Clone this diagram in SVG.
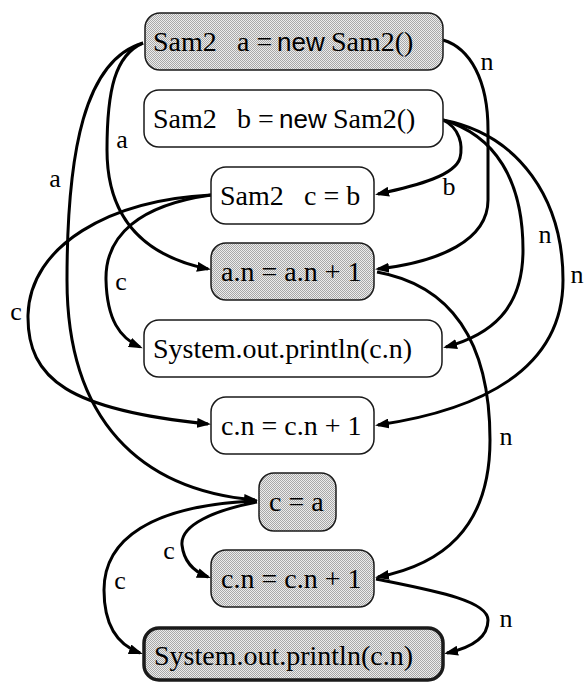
<svg xmlns="http://www.w3.org/2000/svg" width="584" height="682" viewBox="0 0 584 682">
<style>
.box{stroke:#1a1a1a;stroke-width:1.5;fill:#ffffff}
.sh{fill:url(#dots)}
.thick{stroke-width:3.5}
.e{fill:none;stroke:#000;stroke-width:3;marker-end:url(#ah)}
.t{font-family:'Liberation Serif','Times New Roman',serif;font-size:28px;fill:#000}
.s{font-family:'Liberation Sans',Arial,sans-serif;font-size:26px}
.l{font-family:'Liberation Serif','Times New Roman',serif;font-size:26px;fill:#000;text-anchor:middle}
</style>
<defs>
<pattern id="dots" width="2" height="2" patternUnits="userSpaceOnUse">
<rect width="2" height="2" fill="#ececec"/>
<rect width="1" height="1" fill="#a8a8a8"/>
<rect x="1" y="1" width="1" height="1" fill="#a8a8a8"/>
</pattern>
<marker id="ah" viewBox="0 0 14 10" refX="11" refY="5" markerWidth="14" markerHeight="10" markerUnits="userSpaceOnUse" orient="auto">
<path d="M0,0 L14,5 L0,10 z" fill="#000"/>
</marker>
</defs>
<g id="edges">
<path class="e" d="M143,43 C115,55 107,90 107,150 C107,215 140,255 208,269"/>
<path class="e" d="M143,43 C85,60 67,150 67,280 C67,420 140,490 255,500"/>
<path class="e" d="M443,40 C470,48 488,80 488,130 L488,200 C488,240 440,262 378,269"/>
<path class="e" d="M443,120 C460,128 463,145 460,158 C455,175 420,185 378,194"/>
<path class="e" d="M443,120 C495,135 523,180 523,250 C523,310 490,335 446,347"/>
<path class="e" d="M443,120 C520,135 563,200 563,280 C563,370 480,410 378,425"/>
<path class="e" d="M377,272 C450,285 490,340 490,440 C490,530 440,565 378,577"/>
<path class="e" d="M376,579 C430,590 488,600 488,620 C488,638 470,648 447,653"/>
<path class="e" d="M211,195 C140,205 105,235 106,280 C107,320 120,338 140,347"/>
<path class="e" d="M211,195 C110,200 30,245 28,315 C27,380 70,410 208,424"/>
<path class="e" d="M257,502 C215,510 180,525 182,545 C184,563 195,572 208,577"/>
<path class="e" d="M257,501 C150,505 104,540 104,590 C104,625 118,645 140,653"/>
<text class="l" x="122" y="148">a</text>
<text class="l" x="55" y="187">a</text>
<text class="l" x="487" y="70">n</text>
<text class="l" x="449" y="195">b</text>
<text class="l" x="545" y="243">n</text>
<text class="l" x="577" y="283">n</text>
<text class="l" x="506" y="445">n</text>
<text class="l" x="506" y="627">n</text>
<text class="l" x="121" y="290">c</text>
<text class="l" x="16" y="320">c</text>
<text class="l" x="169" y="559">c</text>
<text class="l" x="120" y="589">c</text>
</g>
<g id="n1">
<rect class="box sh" x="145" y="13" width="298" height="57" rx="15"/>
<text class="t" y="51"><tspan x="153">Sam2</tspan><tspan x="237">a =</tspan><tspan class="s" x="277">new</tspan><tspan x="331">Sam2()</tspan></text>
</g>
<g id="n2">
<rect class="box" x="144" y="90" width="299" height="57" rx="15"/>
<text class="t" y="128"><tspan x="153">Sam2</tspan><tspan x="237">b =</tspan><tspan class="s" x="279">new</tspan><tspan x="333">Sam2()</tspan></text>
</g>
<g id="n3">
<rect class="box" x="211" y="167" width="163" height="57" rx="15"/>
<text class="t" y="205"><tspan x="220">Sam2</tspan><tspan x="304">c = b</tspan></text>
</g>
<g id="n4">
<rect class="box sh" x="211" y="243" width="163" height="57" rx="15"/>
<text class="t" x="221" y="281">a.n = a.n + 1</text>
</g>
<g id="n5">
<rect class="box" x="144" y="320" width="298" height="57" rx="15"/>
<text class="t" x="153" y="358">System.out.println(c.n)</text>
</g>
<g id="n6">
<rect class="box" x="211" y="397" width="163" height="57" rx="15"/>
<text class="t" x="221" y="435">c.n = c.n + 1</text>
</g>
<g id="n7">
<rect class="box sh" x="259" y="473" width="77" height="58" rx="15"/>
<text class="t" x="269" y="511">c = a</text>
</g>
<g id="n8">
<rect class="box sh" x="211" y="550" width="163" height="57" rx="15"/>
<text class="t" x="221" y="588">c.n = c.n + 1</text>
</g>
<g id="n9">
<rect class="box sh thick" x="144" y="628" width="299" height="52" rx="15"/>
<text class="t" x="154" y="665">System.out.println(c.n)</text>
</g>
</svg>
